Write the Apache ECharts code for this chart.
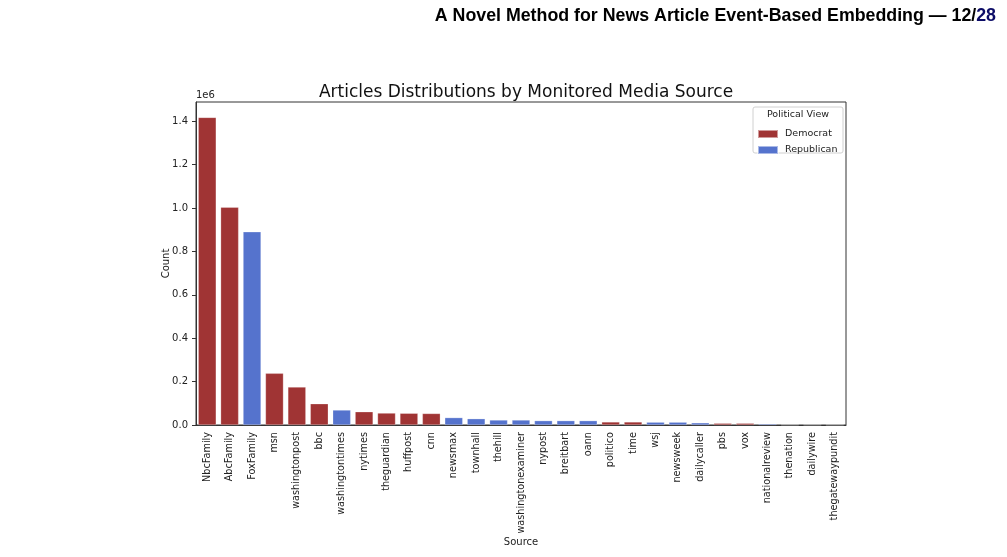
<!DOCTYPE html>
<html>
<head>
<meta charset="utf-8">
<script src="https://cdn.jsdelivr.net/npm/echarts@6/dist/echarts.min.js"></script>
<style>
  html, body { margin: 0; padding: 0; background: #fff; }
  #main { width: 1007px; height: 557px; }
</style>
</head>
<body>
<div id="main"></div>
<script>
// 数据：媒体来源、文章数量、政治倾向
const sources = ['NbcFamily', 'AbcFamily', 'FoxFamily', 'msn', 'washingtonpost', 'bbc', 'washingtontimes',
    'nytimes', 'theguardian', 'huffpost', 'cnn', 'newsmax', 'townhall', 'thehill', 'washingtonexaminer',
    'nypost', 'breitbart', 'oann', 'politico', 'time', 'wsj', 'newsweek', 'dailycaller', 'pbs', 'vox',
    'nationalreview', 'thenation', 'dailywire', 'thegatewaypundit'];
const counts = [1417000, 1003000, 890000, 238000, 175000, 98000, 69000,
    61000, 55000, 54000, 53000, 34000, 29000, 23000, 23000,
    20000, 20000, 20000, 14000, 14000, 13000, 13000, 10000, 8000, 8000,
    5000, 1000, 600, 300];
const parties = ['Democrat', 'Democrat', 'Republican', 'Democrat', 'Democrat', 'Democrat', 'Republican',
    'Democrat', 'Democrat', 'Democrat', 'Democrat', 'Republican', 'Republican', 'Republican', 'Republican',
    'Republican', 'Republican', 'Republican', 'Democrat', 'Democrat', 'Republican', 'Republican', 'Republican', 'Democrat', 'Democrat',
    'Republican', 'Democrat', 'Republican', 'Republican'];
const views = ['Democrat', 'Republican'];
const yTicks = [0, 200000, 400000, 600000, 800000, 1000000, 1200000, 1400000];

const colors = { Democrat: '#a03434', Republican: '#5573cd' };

(function () {
    let myChart = echarts.init(document.getElementById('main'));

    // 每个政治倾向一个系列，堆叠后每个类别只有一根柱子
    let series = views.map(v => ({
        name: v,
        type: 'bar',
        stack: 'all',
        barWidth: '80%',
        itemStyle: {
            color: colors[v],
            borderColor: 'rgba(255,255,255,0.5)',
            borderWidth: 0.5
        },
        data: counts.map((c, i) => parties[i] === v ? c : '-')
    }));

    let option = {
        animation: false,
        textStyle: { fontFamily: 'DejaVu Sans' },
        title: [{
            text: 'Articles Distributions by Monitored Media Source',
            left: 521,
            top: 79,
            textAlign: 'center',
            textStyle: { fontFamily: 'DejaVu Sans', fontSize: 17, fontWeight: 'normal', color: '#111' }
        }, {
            text: 'A Novel Method for News Article Event-Based Embedding — 12/{n|28}',
            right: 6,
            top: 2,
            textStyle: {
                fontFamily: 'Liberation Sans', fontSize: 17.8, fontWeight: 'bold', color: '#000',
                rich: { n: { fontFamily: 'Liberation Sans', fontSize: 17.8, fontWeight: 'bold', color: '#0b0b66' } }
            }
        }],
        graphic: [{
            type: 'text',
            left: 196,
            top: 90,
            style: { text: '1e6', font: '10px "DejaVu Sans"', fill: '#222' }
        }, {
            type: 'rect',
            shape: { x: 753, y: 107, width: 90, height: 46, r: 2 },
            style: { fill: 'rgba(255,255,255,0.8)', stroke: '#d0d0d0', lineWidth: 1 },
            z: 5
        }, {
            type: 'text',
            x: 798,
            y: 110,
            style: { text: 'Political View', font: '9.5px "DejaVu Sans"', fill: '#222', align: 'center' },
            z: 6
        }],
        legend: {
            data: views,
            orient: 'vertical',
            left: 752,
            top: 124,
            itemWidth: 20,
            itemHeight: 8,
            itemGap: 6,
            icon: 'rect',
            z: 7,
            textStyle: { fontFamily: 'DejaVu Sans', fontSize: 9.5, color: '#222', padding: [0, 0, 0, 2] }
        },
        grid: {
            left: 196,
            right: 161,
            top: 102,
            bottom: 132,
            show: true,
            borderColor: '#333',
            borderWidth: 1,
            outerBoundsMode: 'none',
            containLabel: false
        },
        xAxis: {
            type: 'category',
            data: sources,
            name: 'Source',
            nameLocation: 'middle',
            nameGap: 112,
            nameMoveOverlap: false,
            nameTextStyle: { fontFamily: 'DejaVu Sans', fontSize: 10, color: '#222' },
            axisLine: { lineStyle: { color: '#333', width: 1 } },
            axisTick: { alignWithLabel: true, length: 4, lineStyle: { color: '#333' } },
            axisLabel: {
                rotate: 90,
                interval: 0,
                margin: 7,
                fontFamily: 'DejaVu Sans',
                fontSize: 9.7,
                color: '#222'
            }
        },
        yAxis: {
            type: 'value',
            min: 0,
            max: 1488000,
            interval: 200000,
            name: 'Count',
            nameLocation: 'middle',
            nameGap: 25,
            nameMoveOverlap: false,
            nameRotate: 90,
            nameTextStyle: { fontFamily: 'DejaVu Sans', fontSize: 10, color: '#222' },
            splitLine: { show: false },
            axisLine: { show: true, lineStyle: { color: '#333', width: 1 } },
            axisTick: { show: true, length: 4, lineStyle: { color: '#333' } },
            axisLabel: {
                showMaxLabel: false,
                margin: 8,
                fontFamily: 'DejaVu Sans',
                fontSize: 10,
                color: '#222',
                formatter: function (v) {
                    return yTicks.indexOf(v) >= 0 ? (v / 1e6).toFixed(1) : '';
                }
            }
        },
        series: series
    };
    myChart.setOption(option);

    window.addEventListener('resize', function () {
        myChart.resize();
    })
})();
</script>
</body>
</html>
